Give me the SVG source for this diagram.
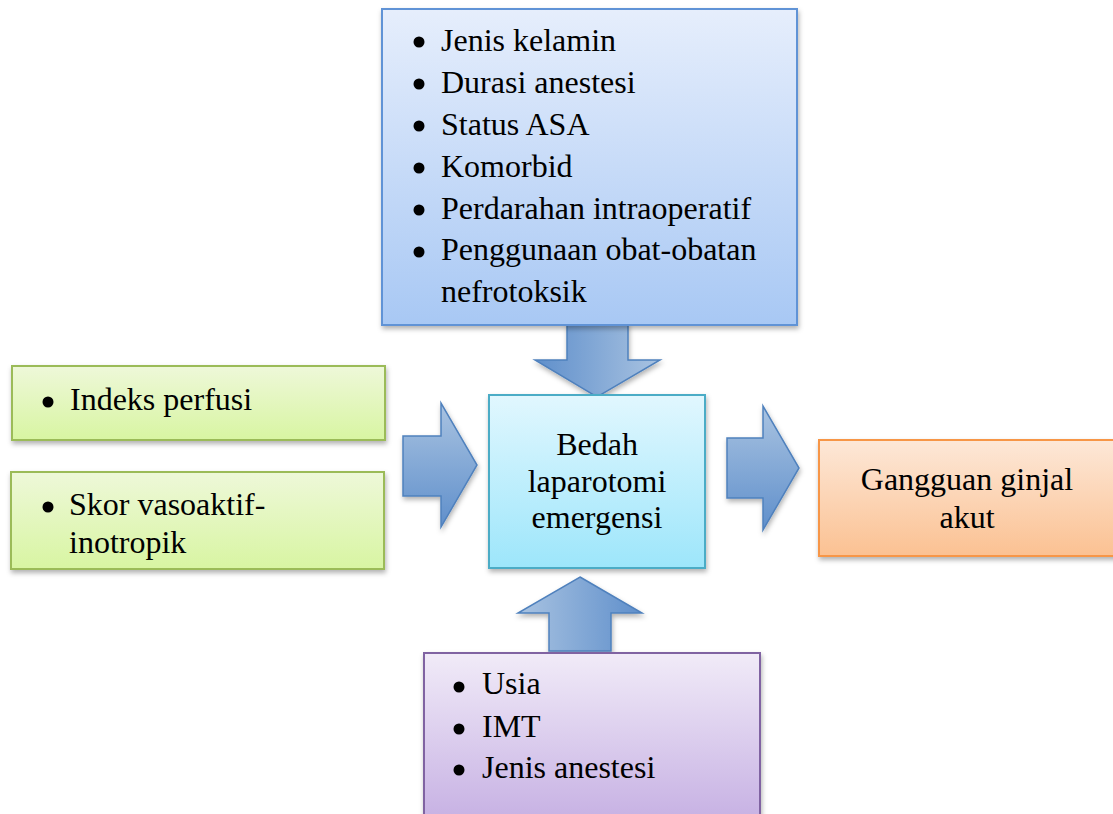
<svg xmlns="http://www.w3.org/2000/svg" width="1113" height="814" viewBox="0 0 1113 814">
<defs>
<linearGradient id="gBlue" x1="0" y1="0" x2="0" y2="1"><stop offset="0" stop-color="#e6eefc"/><stop offset="1" stop-color="#a8c8f4"/></linearGradient>
<linearGradient id="gCyan" x1="0" y1="0" x2="0" y2="1"><stop offset="0" stop-color="#e1f7fe"/><stop offset="1" stop-color="#9de6fb"/></linearGradient>
<linearGradient id="gGreen" x1="0" y1="0" x2="0" y2="1"><stop offset="0" stop-color="#eef8d9"/><stop offset="1" stop-color="#d8f5a2"/></linearGradient>
<linearGradient id="gOrange" x1="0" y1="0" x2="0" y2="1"><stop offset="0" stop-color="#fde8d8"/><stop offset="1" stop-color="#fbc192"/></linearGradient>
<linearGradient id="gPurple" x1="0" y1="0" x2="0" y2="1"><stop offset="0" stop-color="#f1ebf8"/><stop offset="1" stop-color="#c6b0e3"/></linearGradient>
<linearGradient id="aDown" x1="0" y1="0" x2="1" y2="0"><stop offset="0" stop-color="#5f8fcb"/><stop offset="1" stop-color="#a9c3e1"/></linearGradient>
<linearGradient id="aUp" x1="0" y1="0" x2="1" y2="0"><stop offset="0" stop-color="#a9c3e1"/><stop offset="1" stop-color="#5f8fcb"/></linearGradient>
<linearGradient id="aSide" x1="0" y1="0" x2="0" y2="1"><stop offset="0" stop-color="#a9c3e1"/><stop offset="1" stop-color="#5f8fcb"/></linearGradient>
<filter id="sh" x="-10%" y="-10%" width="120%" height="130%"><feDropShadow dx="1" dy="3" stdDeviation="2.5" flood-color="#000" flood-opacity="0.3"/></filter>
</defs>
<style>
text{font-size:32px;fill:#000}
.c{text-anchor:middle}
.arr{stroke:#4f81bd;stroke-width:1.5;filter:url(#sh)}
</style>
<rect width="1113" height="814" fill="#fff"/>
<g id="connectors">
<polygon class="arr" fill="url(#aDown)" points="567,323 628,323 628,360 660,360 597,397 535,360 567,360"/>
<polygon class="arr" fill="url(#aUp)" points="580,577 642,613 611,613 611,651 549,651 549,613 518,613"/>
<polygon class="arr" fill="url(#aSide)" points="403,436 441,436 441,403 477,465 441,527 441,496 403,496"/>
<polygon class="arr" fill="url(#aSide)" points="727,438 763,438 763,406 799,468 763,530 763,498 727,498"/>
</g>
<g font-family="'Liberation Serif', 'Times New Roman', 'DejaVu Serif', serif">
<g id="factors-top">
<rect x="382" y="9" width="415" height="316" fill="url(#gBlue)" stroke="#6193d6" stroke-width="2" filter="url(#sh)"/>
<g fill="#000">
<circle cx="419" cy="42" r="5.5"/><circle cx="419" cy="84" r="5.5"/><circle cx="419" cy="126" r="5.5"/><circle cx="419" cy="168" r="5.5"/><circle cx="419" cy="210" r="5.5"/><circle cx="419" cy="252" r="5.5"/>
</g>
<text x="441" y="51">Jenis kelamin</text>
<text x="441" y="93">Durasi anestesi</text>
<text x="441" y="135">Status ASA</text>
<text x="441" y="177">Komorbid</text>
<text x="441" y="219">Perdarahan intraoperatif</text>
<text x="441" y="260">Penggunaan obat-obatan</text>
<text x="441" y="302">nefrotoksik</text>
</g>
<g id="factor-perfusi">
<rect x="12" y="366" width="373" height="74" fill="url(#gGreen)" stroke="#9bbb59" stroke-width="2" filter="url(#sh)"/>
<circle cx="48" cy="402" r="5.5"/>
<text x="70" y="410">Indeks perfusi</text>
</g>
<g id="factor-vis">
<rect x="11" y="472" width="373" height="97" fill="url(#gGreen)" stroke="#9bbb59" stroke-width="2" filter="url(#sh)"/>
<circle cx="48" cy="507" r="5.5"/>
<text x="69" y="515">Skor vasoaktif-</text>
<text x="69" y="553">inotropik</text>
</g>
<g id="center">
<rect x="489" y="395" width="216" height="173" fill="url(#gCyan)" stroke="#4bacc6" stroke-width="2" filter="url(#sh)"/>
<text class="c" x="597" y="455">Bedah</text>
<text class="c" x="597" y="492">laparotomi</text>
<text class="c" x="597" y="528">emergensi</text>
</g>
<g id="outcome">
<rect x="819" y="440" width="300" height="116" fill="url(#gOrange)" stroke="#f79646" stroke-width="2" filter="url(#sh)"/>
<text class="c" x="967" y="490">Gangguan ginjal</text>
<text class="c" x="967" y="528">akut</text>
</g>
<g id="factors-bottom">
<rect x="424" y="653" width="336" height="170" fill="url(#gPurple)" stroke="#8064a2" stroke-width="2" filter="url(#sh)"/>
<circle cx="459" cy="687" r="5.5"/><circle cx="459" cy="729" r="5.5"/><circle cx="459" cy="770" r="5.5"/>
<text x="482" y="694">Usia</text>
<text x="482" y="737">IMT</text>
<text x="482" y="778">Jenis anestesi</text>
</g>
</g>
</svg>
